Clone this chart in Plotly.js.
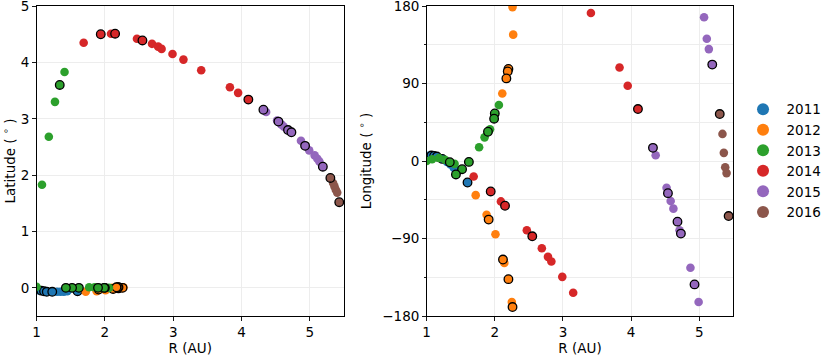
<!DOCTYPE html>
<html>
<head>
<meta charset="utf-8">
<script src="https://cdn.plot.ly/plotly-3.0.1.min.js"></script>
<style>html,body{margin:0;padding:0;background:#fff;}#chart{width:830px;height:357px;}</style>
</head>
<body>
<div id="chart"></div>
<script>
// ---- data ----
const years = ["2011", "2012", "2013", "2014", "2015", "2016"];
const colors = ["#1f77b4", "#ff7f0e", "#2ca02c", "#d62728", "#9467bd", "#8c564b"];

// R (AU), latitude (deg), longitude (deg), outlined flag (1 = black edge)
const r2011   = [1.02, 1.07, 1.11, 1.15, 1.23, 1.30, 1.35, 1.40, 1.45, 1.60];
const lat2011 = [-0.04, -0.05, -0.06, -0.07, -0.07, -0.07, -0.07, -0.07, -0.06, -0.06];
const lon2011 = [6, 6.4, 6.0, 5.2, 2.5, -1, -4, -8, -12, -24.9];
const edge2011 = [0, 1, 1, 1, 1, 0, 0, 0, 0, 1];

const r2012   = [1.72, 1.88, 1.91, 2.01, 2.12, 2.14, 2.20, 2.25, 2.26, 2.26, 2.27, 2.20, 2.19, 2.17, 2.11];
const lat2012 = [-0.07, -0.06, -0.03, -0.04, -0.02, -0.02, -0.01, 0.0, 0.0, 0.01, 0.01, 0.01, 0.01, 0.01, 0.0];
const lon2012 = [-39.6, -62.3, -68, -85, -114.4, -118.3, -137.2, -163.8, -169.6, 178.8, 146.8, 107, 104, 96, 78.5];
const edge2012 = [0, 0, 1, 0, 1, 0, 1, 0, 1, 0, 0, 1, 1, 1, 0];

const r2013   = [2.06, 2.00, 1.99, 1.93, 1.90, 1.85, 1.77, 1.62, 1.52, 1.43, 1.00, 1.08, 1.18, 1.27, 1.34, 1.41];
const lat2013 = [0.0, 0.0, 0.0, 0.0, 0.0, 0.01, 0.01, 0.0, 0.0, 0.0, 0.02, 1.83, 2.68, 3.30, 3.60, 3.83];
const lon2013 = [65, 55.3, 49.2, 37, 34, 27.5, 16, -1, -9.5, -15.6, 0, 2, 3.5, 1.5, -1.4, -3.3];
const edge2013 = [0, 1, 1, 0, 1, 0, 0, 1, 1, 1, 0, 0, 0, 0, 1, 0];

const r2014   = [1.69, 1.94, 2.09, 2.15, 2.47, 2.55, 2.69, 2.78, 2.83, 2.99, 3.15, 3.41, 3.83, 3.95, 4.10];
const lat2014 = [4.35, 4.50, 4.51, 4.51, 4.42, 4.39, 4.33, 4.28, 4.24, 4.15, 4.05, 3.86, 3.56, 3.46, 3.34];
const lon2014 = [-18, -35.3, -46.9, -51.9, -80.4, -87.4, -101.3, -111.3, -116.7, -134.5, -153, 171.9, 108.6, 87.4, 60.4];
const edge2014 = [0, 1, 0, 1, 0, 1, 0, 0, 0, 0, 0, 0, 0, 0, 1];

const r2015   = [4.32, 4.36, 4.52, 4.54, 4.58, 4.62, 4.68, 4.71, 4.73, 4.87, 4.93, 4.99, 5.07, 5.11, 5.14, 5.19];
const lat2015 = [3.16, 3.12, 2.97, 2.95, 2.90, 2.86, 2.80, 2.78, 2.76, 2.61, 2.52, 2.44, 2.35, 2.29, 2.24, 2.15];
const lon2015 = [15.3, 6.7, -31, -37.3, -46.5, -55.3, -70.4, -80.4, -84.3, -124, -143.3, -163.8, 167, 142, 130, 112];
const edge2015 = [1, 0, 0, 1, 0, 0, 1, 0, 1, 0, 1, 0, 0, 0, 0, 1];

const r2016   = [5.30, 5.34, 5.36, 5.38, 5.40, 5.43];
const lat2016 = [1.95, 1.86, 1.80, 1.74, 1.69, 1.52];
const lon2016 = [54.6, 31.5, 9.5, -7.2, -14, -63.9];
const edge2016 = [1, 0, 0, 0, 0, 1];

const series = [
  {r: r2011, lat: lat2011, lon: lon2011, edge: edge2011},
  {r: r2012, lat: lat2012, lon: lon2012, edge: edge2012},
  {r: r2013, lat: lat2013, lon: lon2013, edge: edge2013},
  {r: r2014, lat: lat2014, lon: lon2014, edge: edge2014},
  {r: r2015, lat: lat2015, lon: lon2015, edge: edge2015},
  {r: r2016, lat: lat2016, lon: lon2016, edge: edge2016}
];

// ---- traces ----
const MS = 8.6;
const traces = [];
function pick(arr, edge, flag) { return arr.filter((_, i) => edge[i] === flag); }

[["x", "y", "lat"], ["x2", "y2", "lon"]].forEach(([xa, ya, key], panel) => {
  series.forEach((s, k) => {
    // plain points
    traces.push({
      type: "scatter", mode: "markers", xaxis: xa, yaxis: ya,
      x: pick(s.r, s.edge, 0), y: pick(s[key], s.edge, 0),
      name: years[k], legendgroup: years[k], showlegend: panel === 0,
      marker: {color: colors[k], size: MS, line: {width: 0}},
      hoverinfo: "x+y"
    });
    // outlined points
    traces.push({
      type: "scatter", mode: "markers", xaxis: xa, yaxis: ya,
      x: pick(s.r, s.edge, 1), y: pick(s[key], s.edge, 1),
      name: years[k], legendgroup: years[k], showlegend: false,
      marker: {color: colors[k], size: MS, line: {width: 1.3, color: "#000"}},
      hoverinfo: "x+y"
    });
  });
});

const FONT = {family: "DejaVu Sans, sans-serif", size: 13.5, color: "#000"};
const GRID = "#ebebeb";
const axisBase = {
  showline: true, mirror: true, linecolor: "#000", linewidth: 1,
  ticks: "outside", ticklen: 3.5, tickwidth: 0.9, tickcolor: "#000",
  showgrid: true, gridcolor: GRID, gridwidth: 0.9, zeroline: false,
  tickfont: FONT, automargin: false, ticklabeloverflow: "allow"
};

const layout = {
  width: 830, height: 357,
  margin: {l: 0, r: 0, t: 0, b: 0},
  paper_bgcolor: "#fff", plot_bgcolor: "#fff",
  font: FONT,
  showlegend: true,
  legend: {x: 0.891, xanchor: "left", y: 0.737, yanchor: "top", font: FONT,
           bgcolor: "rgba(0,0,0,0)", itemsizing: "constant", tracegroupgap: 0, itemwidth: 37},
  xaxis: Object.assign({}, axisBase, {
    domain: [0.044, 0.4145], range: [1, 5.5], tick0: 1, dtick: 1, anchor: "y",
    title: {text: "R (AU)", font: FONT, standoff: 2}
  }),
  yaxis: Object.assign({}, axisBase, {
    domain: [0.1148, 0.983], range: [-0.5, 5], tick0: 0, dtick: 1, anchor: "x",
    title: {text: "Latitude ( <sup>∘</sup> )", font: FONT, standoff: 7}
  }),
  xaxis2: Object.assign({}, axisBase, {
    domain: [0.514, 0.8836], range: [1, 5.5], tick0: 1, dtick: 1, anchor: "y2",
    title: {text: "R (AU)", font: FONT, standoff: 2}
  }),
  yaxis2: Object.assign({}, axisBase, {
    domain: [0.1148, 0.983], range: [-180, 180], tick0: 0, dtick: 90, anchor: "x2",
    minor: {dtick: 45, ticks: "outside", ticklen: 2, tickcolor: "#000", showgrid: true, gridcolor: GRID, gridwidth: 0.9},
    title: {text: "Longitude ( <sup>∘</sup> )", font: FONT, standoff: 7}
  })
};

Plotly.newPlot("chart", traces, layout, {displayModeBar: false, staticPlot: true});
</script>
</body>
</html>
